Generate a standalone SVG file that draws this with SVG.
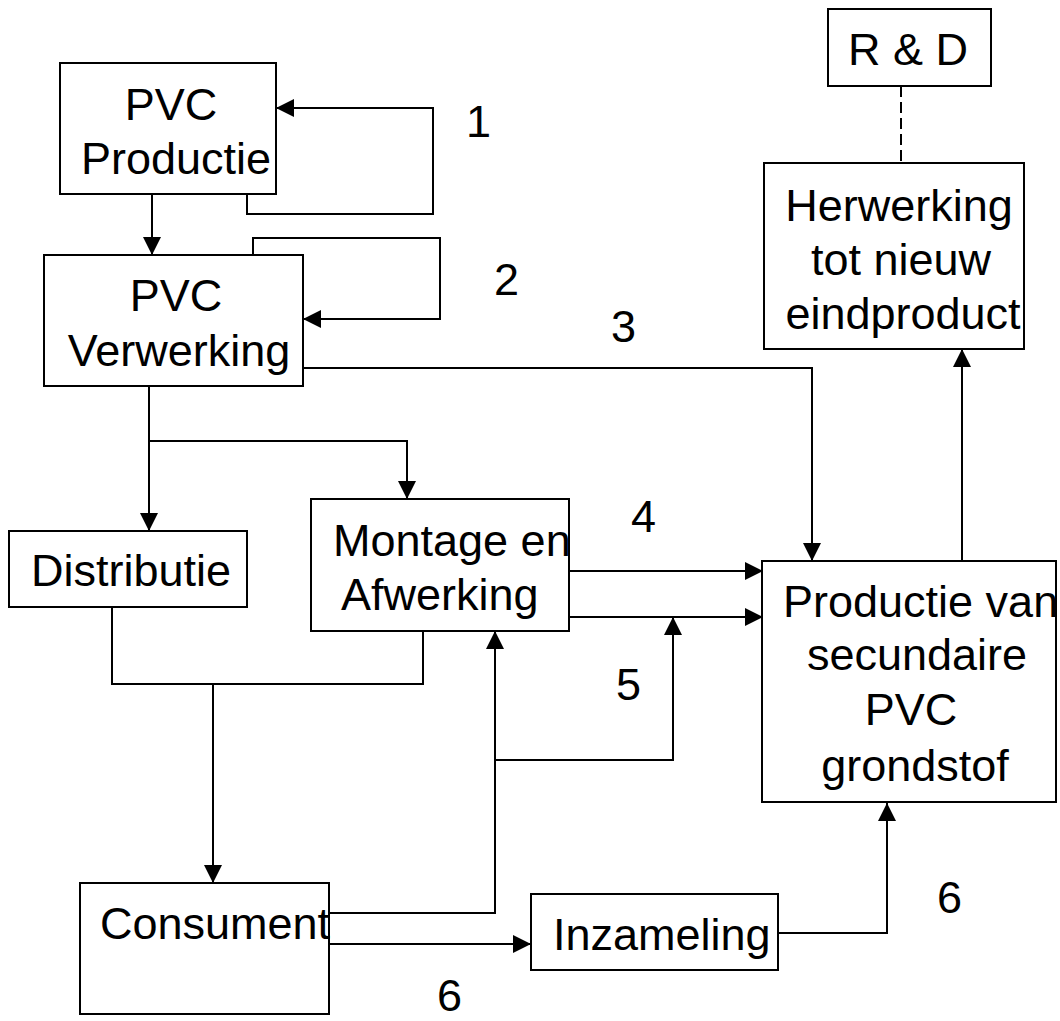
<svg xmlns="http://www.w3.org/2000/svg" width="1060" height="1021" viewBox="0 0 1060 1021">
<style>
.box{fill:#fff;stroke:#000;stroke-width:2}
.t{font-family:"Liberation Sans",Arial,sans-serif;font-size:45px;fill:#000}
.m{text-anchor:middle}
.c{fill:none;stroke:#000;stroke-width:2}
.a{marker-end:url(#ah)}
.d{stroke-dasharray:11 5}
</style>
<defs>
<marker id="ah" markerUnits="userSpaceOnUse" markerWidth="18" markerHeight="18" refX="18" refY="9" orient="auto">
<path d="M0,0 L18,9 L0,18 z" fill="#000"/>
</marker>
</defs>
<rect width="1060" height="1021" fill="#fff"/>
<g id="connectors">
<path class="c a" d="M152,194 V255"/>
<path class="c a" d="M247,194 V214 H433 V108 H276"/>
<path class="c a" d="M253,255 V238 H440 V319 H303"/>
<path class="c a" d="M303,368 H812 V561"/>
<path class="c a" d="M149,386 V531"/>
<path class="c a" d="M149,441 H407 V499"/>
<path class="c a" d="M565,571 H763"/>
<path class="c a" d="M565,617 H763"/>
<path class="c" d="M112,607 V684 H423 V631"/>
<path class="c a" d="M213,684 V883"/>
<path class="c a" d="M329,913 H495 V631"/>
<path class="c a" d="M495,760 H673 V617"/>
<path class="c a" d="M327,944 H531"/>
<path class="c a" d="M778,933 H887 V803"/>
<path class="c a" d="M962,561 V349"/>
<path class="c d" d="M901,86 V163"/>
</g>
<g id="pvc-productie">
<rect class="box" x="60" y="63" width="216" height="131"/>
<text class="t m" x="171" y="120">PVC</text>
<text class="t m" x="176" y="174">Productie</text>
</g>
<g id="pvc-verwerking">
<rect class="box" x="44" y="255" width="259" height="131"/>
<text class="t m" x="176" y="311">PVC</text>
<text class="t m" x="179" y="366">Verwerking</text>
</g>
<g id="distributie">
<rect class="box" x="9" y="531" width="238" height="76"/>
<text class="t" x="31" y="586">Distributie</text>
</g>
<g id="montage">
<rect class="box" x="311" y="499" width="258" height="132"/>
<text class="t" x="333" y="556">Montage en</text>
<text class="t" x="341" y="610">Afwerking</text>
</g>
<g id="consument">
<rect class="box" x="80" y="883" width="249" height="131"/>
<text class="t" x="100" y="939">Consument</text>
</g>
<g id="inzameling">
<rect class="box" x="531" y="894" width="247" height="76"/>
<text class="t" x="553" y="950">Inzameling</text>
</g>
<g id="productie-secundair">
<rect class="box" x="762" y="561" width="294" height="241"/>
<text class="t" x="783" y="617">Productie van</text>
<text class="t m" x="917" y="670">secundaire</text>
<text class="t m" x="911" y="725">PVC</text>
<text class="t m" x="915" y="781">grondstof</text>
</g>
<g id="herwerking">
<rect class="box" x="764" y="163" width="260" height="186"/>
<text class="t m" x="899" y="221">Herwerking</text>
<text class="t m" x="901" y="275">tot nieuw</text>
<text class="t m" x="903" y="329">eindproduct</text>
</g>
<g id="rd">
<rect class="box" x="828" y="9" width="163" height="77"/>
<text class="t" x="848" y="65">R &amp; D</text>
</g>
<g id="labels">
<text class="t" x="466" y="137">1</text>
<text class="t" x="494" y="295">2</text>
<text class="t" x="611" y="342">3</text>
<text class="t" x="631" y="532">4</text>
<text class="t" x="616" y="700">5</text>
<text class="t" x="937" y="913">6</text>
<text class="t" x="437" y="1011">6</text>
</g>
</svg>
